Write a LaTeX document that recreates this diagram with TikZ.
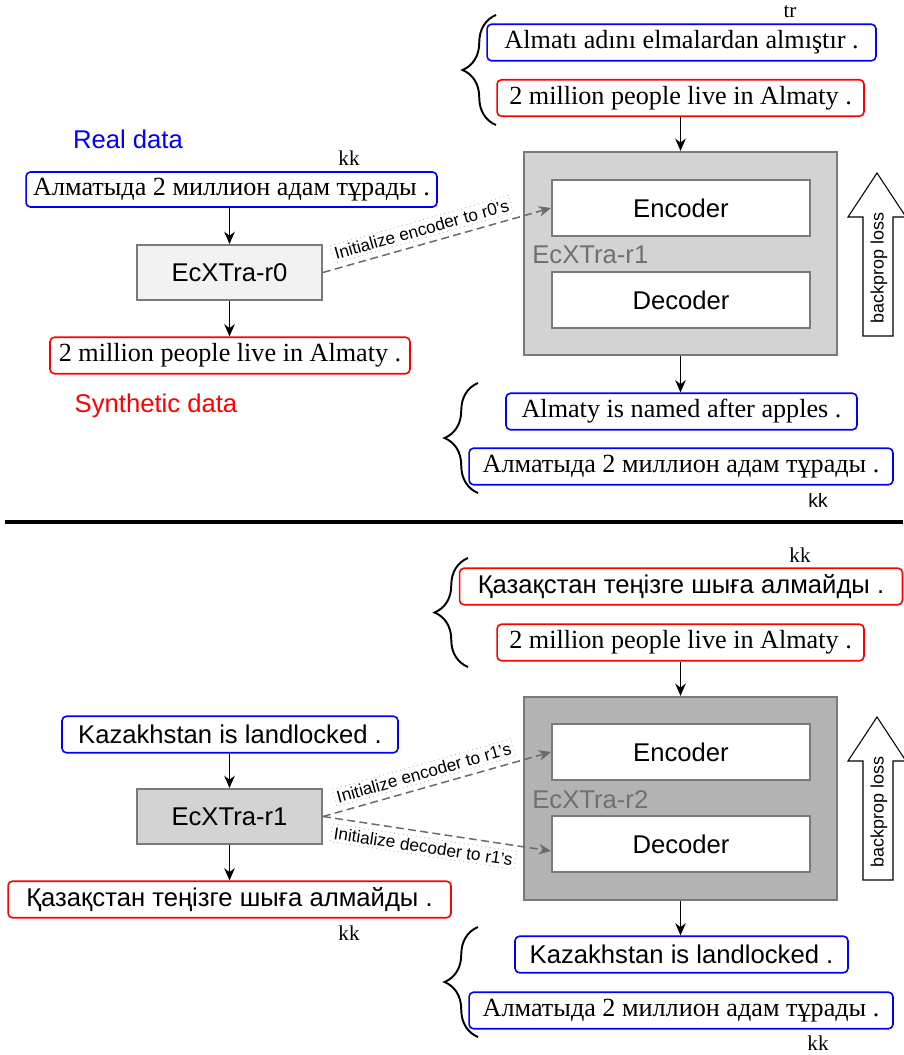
\documentclass[tikz,border=0pt]{standalone}
\usepackage{fontspec}
\setmainfont{Liberation Serif}
\setsansfont{Liberation Sans}
\usetikzlibrary{arrows.meta,decorations.pathreplacing,calc}
\definecolor{bblue}{HTML}{0000FF}
\definecolor{rred}{HTML}{FF0000}
\definecolor{bord}{HTML}{7A7A7A}
\definecolor{dgray}{HTML}{6A6A6A}
\definecolor{lgray}{HTML}{B4B4B4}
\definecolor{fillA}{HTML}{F2F2F2}
\definecolor{fillB}{HTML}{D3D3D3}
\definecolor{fillC}{HTML}{B3B3B3}
\definecolor{lbltxt}{HTML}{707070}
\begin{document}
\begin{tikzpicture}[x=0.02cm,y=-0.02cm,
  every node/.style={inner sep=0pt},
  rmtext/.style={font=\fontsize{14.9}{17}\selectfont\rmfamily},
  sftext/.style={font=\fontsize{14.6}{17}\selectfont\sffamily},
  tbox/.style={draw, line width=0.9pt, rounded corners=2.5pt, minimum height=0.73cm, fill=white},
  bluebox/.style={tbox, draw=bblue},
  redbox/.style={tbox, draw=rred},
  model/.style={draw=bord, line width=1.1pt, minimum width=3.7cm, minimum height=1.1cm, sftext},
  part/.style={draw=bord, line width=1.1pt, fill=white, minimum width=5.16cm, minimum height=1.12cm, sftext},
  big/.style={draw=bord, line width=1.3pt, minimum width=6.26cm, minimum height=4.06cm},
  arr/.style={-{Stealth[length=7pt,width=6pt]}, line width=0.75pt},
  init/.style={draw=dgray, dash pattern=on 4.5pt off 2.5pt, line width=0.85pt, -{Stealth[length=7pt,width=6pt]}},
  ilabel/.style={draw=lgray, dotted, line width=0.5pt, inner sep=1.5pt, font=\fontsize{9.8}{11}\selectfont\sffamily, sloped},
  bracestyle/.style={decorate, decoration={brace, amplitude=0.67cm}, line width=1.1pt},
  smallrm/.style={font=\fontsize{12}{14}\selectfont\rmfamily, anchor=base},
  smallsf/.style={font=\fontsize{11}{13}\selectfont\sffamily, anchor=base},
  bpl/.style={font=\fontsize{10.2}{12}\selectfont\sffamily, rotate=90}
]
\useasboundingbox (0,0) rectangle (903,1055);

% ================= top panel =================
\node[smallrm] (tr1) at (790,17) {tr};
\node[bluebox, rmtext, minimum width=7.78cm] (trA) at (681.5,42.5) {Almatı adını elmalardan almıştır .};
\node[redbox, rmtext, minimum width=7.34cm] (trB) at (680.5,98) {2 million people live in Almaty .};
\draw[bracestyle] (496,125) -- (496,15);

\node[big, fill=fillB] (r1big) at (680.5,253.5) {};
\node[part] (enc1) at (681,208) {Encoder};
\node[part] (dec1) at (681,300) {Decoder};
\node[anchor=west, text=lbltxt, sftext] (lab1) at (532,255) {EcXTra-r1};

\draw[arr] (trB.south) -- (trB.south |- r1big.north);

\node[bpl] (bp1) at (879,268) {backprop loss};
\draw[line width=0.6pt] (863,336) -- (863,217) -- (848,217) -- (877,173) -- (906,217) -- (893,217) -- (893,336) -- cycle;

\node[font=\fontsize{14.6}{17}\selectfont\sffamily, text=bblue, anchor=base] (real) at (128,148) {Real data};
\node[smallrm] (kk1) at (349,165) {kk};
\node[bluebox, rmtext, minimum width=8.22cm, minimum height=0.70cm] (src1) at (231.5,189.5) {Алматыда 2 миллион адам тұрады .};
\node[model, fill=fillA] (r0) at (229.5,272.5) {EcXTra-r0};
\node[redbox, rmtext, minimum width=7.2cm] (syn1) at (230,355.5) {2 million people live in Almaty .};
\node[font=\fontsize{14.6}{17}\selectfont\sffamily, text=rred, anchor=base] (synth) at (156,412) {Synthetic data};

\draw[arr] (src1.south -| r0.north) -- (r0.north);
\draw[arr] (r0.south) -- (r0.south |- syn1.north);

\draw[init] (r0.east) -- node[ilabel, above=3pt, pos=0.45] (il1) {Initialize encoder to r0's} (enc1.west);

\node[bluebox, rmtext, minimum width=7.02cm] (out1a) at (681.5,411.5) {Almaty is named after apples .};
\node[bluebox, rmtext, minimum width=8.48cm] (out1b) at (681,466.5) {Алматыда 2 миллион адам тұрады .};
\draw[arr] (r1big.south) -- (r1big.south |- out1a.north);
\draw[bracestyle] (478,493) -- (478,383);
\node[smallsf] (kk2) at (818,507) {kk};

% separator
\coordinate (sepL) at (5,522);
\coordinate (sepR) at (903,522);
\draw[line width=1.9pt] (sepL) -- (sepR);

% ================= bottom panel =================
\node[smallrm] (kk3) at (800,562) {kk};
\node[redbox, sftext, minimum width=8.86cm] (kzA) at (681,586.5) {Қазақстан теңізге шыға алмайды .};
\node[redbox, rmtext, minimum width=7.34cm] (enB) at (680.5,642.5) {2 million people live in Almaty .};
\draw[bracestyle] (468,667) -- (468,558);

\node[big, fill=fillC] (r2big) at (680.5,798.5) {};
\node[part] (enc2) at (681,752) {Encoder};
\node[part] (dec2) at (681,844) {Decoder};
\node[anchor=west, text=lbltxt, sftext] (lab2) at (532,800) {EcXTra-r2};

\draw[arr] (enB.south) -- (enB.south |- r2big.north);

\node[bpl] (bp2) at (879,812) {backprop loss};
\draw[line width=0.6pt] (863,880) -- (863,761) -- (848,761) -- (877,717) -- (906,761) -- (893,761) -- (893,880) -- cycle;

\node[bluebox, sftext, minimum width=6.72cm] (kzL) at (230,734.5) {Kazakhstan is landlocked .};
\node[model, fill=fillB] (r1s) at (229.5,816.5) {EcXTra-r1};
\node[redbox, sftext, minimum width=8.86cm] (kzR) at (229.5,899.5) {Қазақстан теңізге шыға алмайды .};
\node[smallrm] (kk4) at (349,940) {kk};

\draw[arr] (kzL.south -| r1s.north) -- (r1s.north);
\draw[arr] (r1s.south) -- (r1s.south |- kzR.north);

\draw[init] (r1s.east) -- node[ilabel, above=3pt, pos=0.46] (il2) {Initialize encoder to r1's} (enc2.west);
\draw[init] (r1s.east) -- node[ilabel, below=3pt, pos=0.45] (il3) {Initialize decoder to r1's} ([yshift=-0.14cm]dec2.west);

\node[bluebox, sftext, minimum width=6.66cm] (out2a) at (681.5,954.5) {Kazakhstan is landlocked .};
\node[bluebox, rmtext, minimum width=8.48cm] (out2b) at (681,1010.5) {Алматыда 2 миллион адам тұрады .};
\draw[arr] (r2big.south) -- (r2big.south |- out2a.north);
\draw[bracestyle] (478,1037) -- (478,927);
\node[smallrm] (kk5) at (818,1050) {kk};
\end{tikzpicture}
\end{document}
